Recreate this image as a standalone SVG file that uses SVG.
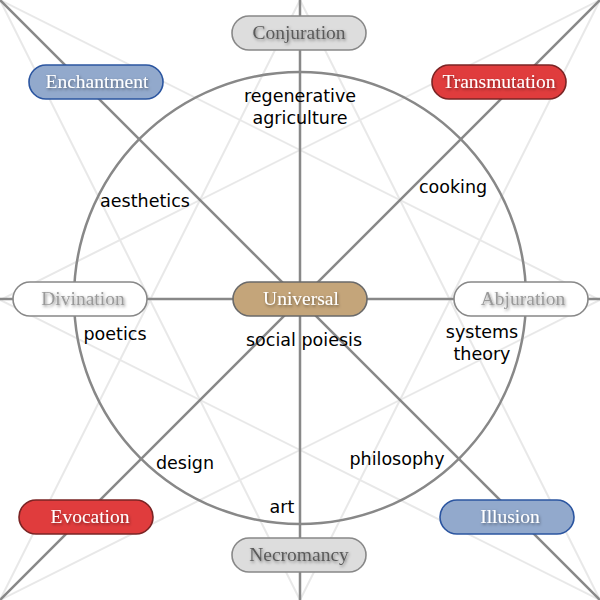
<svg xmlns="http://www.w3.org/2000/svg" width="600" height="600" viewBox="0 0 600 600">
<defs>
<filter id="ts" x="-20%" y="-40%" width="140%" height="180%">
<feDropShadow dx="1" dy="1.5" stdDeviation="1.5" flood-color="#000" flood-opacity="0.45"/>
</filter>
</defs>
<style>
.bg{stroke:#e8e8e8;stroke-width:2;fill:none}
.main{stroke:#888;stroke-width:2.5;fill:none}
.node rect{stroke-width:1.6}
.node text{font-family:"Liberation Serif","DejaVu Serif",serif;font-size:19.5px;text-anchor:middle;filter:url(#ts)}
.gray rect{fill:#dddddd;stroke:#888}
.gray text{fill:#5a5a5a}
.white rect{fill:#fff;stroke:#888}
.white text{fill:#999}
.blue rect{fill:#92a9cc;stroke:#2b55a0}
.blue text{fill:#fff}
.red rect{fill:#e03c3d;stroke:#7a2424}
.red text{fill:#fff}
.tan rect{fill:#c4a57a;stroke:#6a6a6a}
.tan text{fill:#fff}
.lbl{font-family:"DejaVu Sans",sans-serif;font-size:17.5px;fill:#000;text-anchor:middle}
</style>
<rect width="600" height="600" fill="#fff"/>
<g id="background-star">
<line class="bg" x1="0" y1="0" x2="600" y2="300"/>
<line class="bg" x1="0" y1="0" x2="300" y2="600"/>
<line class="bg" x1="300" y1="0" x2="0" y2="600"/>
<line class="bg" x1="300" y1="0" x2="600" y2="600"/>
<line class="bg" x1="600" y1="0" x2="0" y2="300"/>
<line class="bg" x1="600" y1="0" x2="300" y2="600"/>
<line class="bg" x1="600" y1="300" x2="0" y2="600"/>
<line class="bg" x1="0" y1="300" x2="600" y2="600"/>
</g>
<g id="connectors">
<line class="main" x1="300" y1="0" x2="300" y2="600"/>
<line class="main" x1="0" y1="299" x2="600" y2="299"/>
<line class="main" x1="0" y1="0" x2="600" y2="600"/>
<line class="main" x1="600" y1="0" x2="0" y2="600"/>
<circle class="main" cx="300" cy="298" r="226"/>
</g>
<g id="labels">
<text class="lbl" x="300" y="102">regenerative</text>
<text class="lbl" x="300" y="124">agriculture</text>
<text class="lbl" x="453" y="193">cooking</text>
<text class="lbl" x="145" y="207">aesthetics</text>
<text class="lbl" x="115" y="340">poetics</text>
<text class="lbl" x="304" y="346">social poiesis</text>
<text class="lbl" x="482" y="338">systems</text>
<text class="lbl" x="482" y="360">theory</text>
<text class="lbl" x="185" y="469">design</text>
<text class="lbl" x="397" y="465">philosophy</text>
<text class="lbl" x="282" y="513">art</text>
</g>
<g id="Conjuration" class="node gray"><rect x="232" y="16" width="134" height="34" rx="17"/><text x="299" y="39">Conjuration</text></g>
<g id="Enchantment" class="node blue"><rect x="29" y="65" width="134" height="34" rx="17"/><text x="97" y="88">Enchantment</text></g>
<g id="Transmutation" class="node red"><rect x="432" y="65" width="134" height="34" rx="17"/><text x="499" y="88">Transmutation</text></g>
<g id="Divination" class="node white"><rect x="13" y="282" width="134" height="34" rx="17"/><text x="83" y="305">Divination</text></g>
<g id="Universal" class="node tan"><rect x="233" y="282" width="134" height="34" rx="17"/><text x="301" y="305">Universal</text></g>
<g id="Abjuration" class="node white"><rect x="454" y="282" width="134" height="34" rx="17"/><text x="523" y="305">Abjuration</text></g>
<g id="Evocation" class="node red"><rect x="19" y="500" width="134" height="34" rx="17"/><text x="90" y="523">Evocation</text></g>
<g id="Necromancy" class="node gray"><rect x="232" y="538" width="134" height="34" rx="17"/><text x="299" y="561">Necromancy</text></g>
<g id="Illusion" class="node blue"><rect x="440" y="500" width="134" height="34" rx="17"/><text x="510" y="523">Illusion</text></g>
</svg>
